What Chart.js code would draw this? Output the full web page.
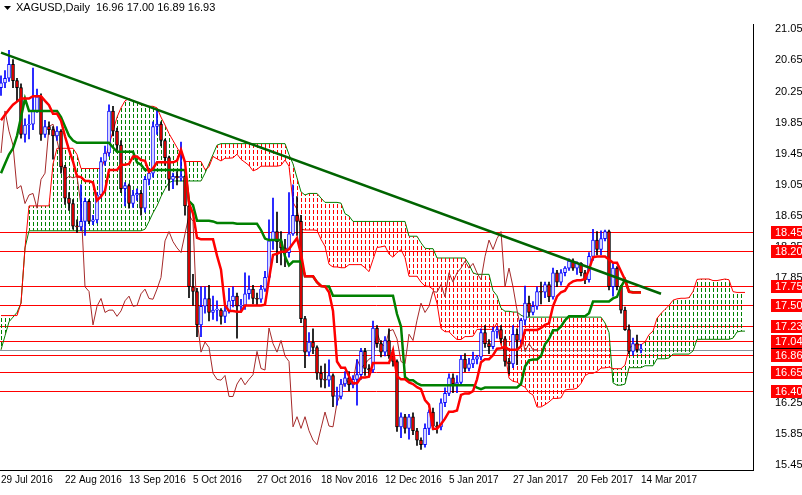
<!DOCTYPE html>
<html>
<head>
<meta charset="utf-8">
<script src="https://cdn.jsdelivr.net/npm/chart.js@4.4.0/dist/chart.umd.min.js"></script>
<style>
  html, body { margin: 0; padding: 0; background: #fff; }
  #wrap { width: 802px; height: 495px; }
  canvas { width: 802px; height: 495px; }
</style>
</head>
<body>
<div id="wrap"><canvas id="chart" width="802" height="495"></canvas></div>
<script>
// XAGUSD daily, bar 0 = 29 Jul 2016
const closes = [
  20.36,20.42,20.60,20.39,20.30,19.70,19.82,19.83,20.00,20.18,
  19.70,19.80,19.76,19.68,19.74,19.28,18.88,18.81,18.52,18.51,
  18.58,18.84,18.58,18.60,18.92,19.35,19.46,20.00,19.74,19.56,
  19.00,19.04,18.81,18.92,18.94,18.75,19.12,19.20,19.80,19.83,
  19.62,19.40,19.12,19.16,19.14,19.16,18.78,17.74,17.68,17.25,
  17.49,17.59,17.41,17.44,17.44,17.36,17.43,17.56,17.62,17.49,
  17.50,17.65,17.71,17.59,17.58,17.71,17.86,18.33,18.45,18.32,
  18.24,18.18,18.42,18.66,18.58,17.33,16.90,17.03,16.96,16.63,
  16.55,16.54,16.60,16.33,16.33,16.49,16.57,16.48,16.55,16.61,
  16.91,16.69,16.67,17.21,17.01,16.90,17.05,16.85,16.78,15.94,
  16.07,15.92,16.07,15.89,15.77,15.71,15.92,16.13,15.95,15.94,
  16.25,16.37,16.57,16.49,16.51,16.81,16.69,16.75,16.81,16.84,
  17.15,17.01,16.97,17.17,17.19,17.07,16.78,16.75,17.13,17.05,
  17.31,17.53,17.41,17.49,17.68,17.67,17.77,17.61,17.92,17.80,
  17.92,17.98,18.07,17.98,18.04,17.92,17.83,18.13,18.34,18.22,
  18.36,18.45,17.74,17.98,17.74,17.44,17.19,16.91,17.01,16.93,16.93
];
const highs = [
  20.45,20.52,20.78,20.66,20.42,20.35,19.90,19.95,20.55,20.28,
  20.22,19.88,19.86,19.80,19.80,19.76,19.30,18.95,18.86,18.60,
  19.05,18.88,18.86,18.66,18.95,19.40,19.55,20.08,20.06,19.78,
  19.62,19.08,19.06,18.98,19.00,18.98,19.16,19.26,19.86,20.02,
  19.86,19.64,19.42,19.20,19.22,19.60,19.18,18.82,17.90,17.72,
  17.74,17.74,17.76,17.62,17.56,17.46,17.50,17.72,17.74,17.66,
  17.58,17.92,17.88,17.76,17.66,17.76,17.94,18.60,18.88,18.70,
  18.45,18.35,18.95,19.05,18.90,18.66,17.36,17.15,17.20,16.98,
  16.72,16.75,16.80,16.62,16.45,16.55,16.65,16.65,16.60,16.80,
  16.95,16.95,16.74,17.30,17.24,17.05,17.10,17.20,16.92,16.80,
  16.12,16.10,16.10,16.12,15.92,15.80,15.98,16.16,16.18,16.00,
  16.30,16.44,16.62,16.62,16.60,16.86,16.88,16.82,16.90,16.86,
  17.20,17.24,17.06,17.22,17.23,17.24,17.10,16.82,17.24,17.20,
  17.33,17.75,17.62,17.55,17.74,17.80,17.80,17.80,17.98,17.95,
  17.96,18.00,18.10,18.10,18.06,18.05,17.95,18.18,18.48,18.45,
  18.46,18.47,18.47,18.04,18.00,17.76,17.48,17.25,17.08,17.12,17.00
];
const lows = [
  20.20,20.30,20.38,20.30,20.12,19.65,19.60,19.64,19.76,19.98,
  19.62,19.66,19.70,19.38,19.62,19.20,18.80,18.72,18.48,18.44,
  18.46,18.40,18.55,18.54,18.56,18.88,19.30,19.42,19.68,19.50,
  18.95,18.78,18.75,18.76,18.85,18.66,18.70,19.05,19.15,19.70,
  19.55,19.30,18.98,19.00,19.05,19.10,18.66,17.60,17.50,17.10,
  17.10,17.40,17.30,17.32,17.30,17.26,17.28,17.40,17.48,17.08,
  17.42,17.45,17.58,17.52,17.50,17.54,17.68,17.82,18.22,18.05,
  18.02,18.00,18.12,18.40,18.40,17.28,16.70,16.85,16.88,16.55,
  16.45,16.44,16.46,16.20,16.22,16.30,16.46,16.40,16.44,16.22,
  16.55,16.60,16.58,16.64,16.96,16.84,16.85,16.82,16.72,15.88,
  15.80,15.86,15.78,15.84,15.70,15.65,15.68,15.84,15.90,15.86,
  15.90,16.20,16.34,16.38,16.38,16.48,16.65,16.66,16.70,16.75,
  16.80,16.96,16.88,16.94,17.08,17.02,16.72,16.62,16.70,16.74,
  17.00,17.25,17.36,17.38,17.45,17.52,17.60,17.55,17.58,17.74,
  17.76,17.88,17.95,17.95,17.90,17.88,17.78,17.80,18.08,18.15,
  18.15,18.33,17.70,17.62,17.70,17.40,17.18,16.88,16.86,16.90,16.89
];
const firstOpen = 20.30;

// Ichimoku values from before the visible history
const earlyTenkan = [19.88,19.95,20.02,20.08,20.12,20.16,20.16,20.16];
const earlyKijun = [
  19.20,19.32,19.44,19.52,19.68,19.92,20.16,20.00,20.00,20.00,
  20.00,20.00,20.00,20.00,20.00,19.92,19.80,19.68,19.62,19.59,
  19.59,19.59,19.59,19.59,19.59
];
const earlySpanA = [
  17.37,17.37,17.37,17.37,17.37,17.53,18.24,18.78,18.78,18.78,
  18.78,18.78,18.78,19.32,19.52,19.52,19.52,19.52,19.52,19.44,
  19.26,19.26,19.26,19.26,19.26,19.26,19.38,19.56,19.74,19.92,
  20.04,20.13,20.16,20.13,20.11,20.08,20.07,20.06,20.06,20.04,
  19.92,19.82,19.71,19.62,19.53,19.44,19.35,19.35,19.35,19.35,19.35
];
const earlySpanB = [
  16.93,17.11,17.29,17.35,17.41,17.53,18.24,18.46,18.46,18.46,
  18.46,18.46,18.46,18.46,18.46,18.46,18.46,18.46,18.46,18.46,
  18.46,18.46,18.46,18.46,18.46,18.46,18.46,18.46,18.46,18.46,
  18.46,18.46,18.46,18.46,18.46,18.46,18.48,18.58,18.69,18.78,
  18.90,19.00,19.08,19.10,19.10,19.10,19.10,19.10,19.10,19.10,
  19.10,19.20,19.32,19.44,19.56,19.58,19.58,19.58,19.58,19.58,
  19.58,19.58,19.58,19.58,19.58,19.58,19.58,19.58,19.58,19.58,
  19.58,19.58,19.44,19.32,19.14,18.96,18.92
];

const levels = [18.45, 18.20, 17.75, 17.50, 17.23, 17.04, 16.86, 16.65, 16.40];
const lastPrice = 16.93;
const trendX = [0, 165];
const trendY = [20.75, 17.65];
const yTicks = [15.45,15.85,16.25,16.65,17.05,17.45,17.85,18.25,18.65,19.05,19.45,19.85,20.25,20.65,21.05];
const xTickIdx = [0,16,32,48,64,80,96,112,128,144,160];
const xTickLabels = ['29 Jul 2016','22 Aug 2016','13 Sep 2016','5 Oct 2016','27 Oct 2016','18 Nov 2016',
  '12 Dec 2016','5 Jan 2017','27 Jan 2017','20 Feb 2017','14 Mar 2017'];
const title = 'XAGUSD,Daily  16.96 17.00 16.89 16.93';

const n = closes.length;
const opens = closes.map((c, i) => i ? closes[i - 1] : firstOpen);

function midRange(end, len) {
  let hh = -Infinity, ll = Infinity;
  for (let k = end - len + 1; k <= end; k++) { hh = Math.max(hh, highs[k]); ll = Math.min(ll, lows[k]); }
  return (hh + ll) / 2;
}
const tenkan = closes.map((c, i) => i < 8 ? earlyTenkan[i] : midRange(i, 9));
const kijun = closes.map((c, i) => i < 25 ? earlyKijun[i] : midRange(i, 26));
const spanA = [], spanB = [];
for (let i = 0; i < n + 26; i++) {
  spanA.push({ x: i, y: i < 51 ? earlySpanA[i] : (tenkan[i - 26] + kijun[i - 26]) / 2 });
  spanB.push({ x: i, y: i < 77 ? earlySpanB[i] : midRange(i - 26, 52) });
}

const ctx = document.getElementById('chart').getContext('2d');
function hatch(color) {
  const c = document.createElement('canvas');
  c.width = 4; c.height = 6;
  const g = c.getContext('2d');
  g.fillStyle = color;
  g.fillRect(1, 0, 1, 4);
  return ctx.createPattern(c, 'repeat');
}
const greenHatch = hatch('rgb(0,128,0)');
const redHatch = hatch('rgb(255,0,0)');

const pts = arr => arr.map((v, i) => ({ x: i, y: v }));
const lineDs = (data, color, width, order, extra) => Object.assign({
  type: 'line', data, borderColor: color, borderWidth: width, pointRadius: 0,
  tension: 0, fill: false, order
}, extra || {});

const datasets = [];
datasets.push(lineDs(spanB, 'rgb(0,128,0)', 1, 15));
datasets.push(lineDs(spanA, 'rgb(255,0,0)', 1, 14, { fill: { target: 0, above: greenHatch, below: redHatch } }));
datasets.push(lineDs(closes.slice(26).map((v, i) => ({ x: i, y: v })), '#a52a2a', 1, 12));
const up = closes.map((c, i) => c >= opens[i]);
datasets.push({
  type: 'bar', order: 8, grouped: false, barThickness: 1,
  data: closes.map((c, i) => ({ x: i, y: [lows[i], highs[i]] })),
  backgroundColor: up.map(u => u ? '#0000ff' : '#000000')
});
datasets.push({
  type: 'bar', order: 7, grouped: false, barThickness: 3, minBarLength: 1,
  data: closes.map((c, i) => ({ x: i, y: [opens[i], c] })),
  backgroundColor: up.map(u => u ? '#ffffff' : '#ff0000'),
  borderColor: up.map(u => u ? '#0000ff' : '#000000'), borderWidth: 1, borderSkipped: false
});
datasets.push(lineDs(pts(kijun), '#008000', 2.5, 4));
datasets.push(lineDs(pts(tenkan), '#ff0000', 2.5, 3));
datasets.push(lineDs(trendX.map((x, i) => ({ x, y: trendY[i] })), '#006400', 2.5, 2));

const FONT = '11px "Liberation Sans"';
const overlay = {
  id: 'overlay',
  beforeDraw(chart) {
    const c = chart.ctx;
    c.save(); c.fillStyle = '#fff'; c.fillRect(0, 0, chart.width, chart.height); c.restore();
  },
  beforeDatasetsDraw(chart) {
    // support / resistance levels and last price line
    const c = chart.ctx, y = chart.scales.y, a = chart.chartArea;
    c.save();
    c.lineWidth = 1;
    c.strokeStyle = 'rgb(255,0,0)';
    levels.forEach(v => {
      const p = Math.round(y.getPixelForValue(v)) + 0.5;
      c.beginPath(); c.moveTo(a.left, p); c.lineTo(a.right, p); c.stroke();
    });
    c.strokeStyle = '#8a949c';
    const p = Math.round(y.getPixelForValue(lastPrice)) + 0.5;
    c.beginPath(); c.moveTo(a.left, p); c.lineTo(a.right, p); c.stroke();
    c.restore();
  },
  afterDraw(chart) {
    const c = chart.ctx, y = chart.scales.y, a = chart.chartArea;
    c.save();
    c.font = FONT;
    c.textBaseline = 'middle';
    const py = Math.round(y.getPixelForValue(lastPrice));
    c.fillStyle = '#000';
    c.fillRect(a.right + 18, py - 6, 31, 12);
    levels.forEach(v => {
      const p = Math.round(y.getPixelForValue(v));
      c.fillStyle = 'rgb(255,0,0)';
      c.fillRect(a.right + 18, p - 6, 31, 13);
      c.fillStyle = '#fff';
      c.fillText(v.toFixed(2), a.right + 22, p + 1);
    });
    c.fillStyle = '#000';
    c.beginPath(); c.moveTo(4, 6); c.lineTo(11, 6); c.lineTo(7.5, 10); c.closePath(); c.fill();
    c.fillText(title, 16, 8);
    c.restore();
  }
};

new Chart(ctx, {
  type: 'bar',
  data: { datasets },
  options: {
    responsive: false, animation: false, devicePixelRatio: 1,
    layout: { padding: 0 },
    plugins: { legend: { display: false }, tooltip: { enabled: false } },
    scales: {
      x: {
        type: 'linear', min: -0.25, max: 188, offset: false,
        grid: { display: false, tickLength: 4 },
        border: { color: '#000' },
        afterBuildTicks: s => { s.ticks = xTickIdx.map(v => ({ value: v })); },
        afterFit: s => { s.height = 15; },
        ticks: {
          autoSkip: false, maxRotation: 0, align: 'start', padding: 0,
          color: '#000', font: { family: 'Liberation Sans', size: 10 },
          callback: v => xTickLabels[xTickIdx.indexOf(v)]
        }
      },
      y: {
        position: 'right', min: 15.38, max: 21.11,
        grid: { display: false, tickLength: 4 },
        border: { color: '#000' },
        afterBuildTicks: s => { s.ticks = yTicks.map(v => ({ value: v })); },
        afterFit: s => { s.width = 49; },
        ticks: {
          padding: 18, color: '#000', font: { family: 'Liberation Sans', size: 11 },
          callback: v => v.toFixed(2)
        }
      }
    }
  },
  plugins: [overlay]
});
</script>
</body>
</html>
